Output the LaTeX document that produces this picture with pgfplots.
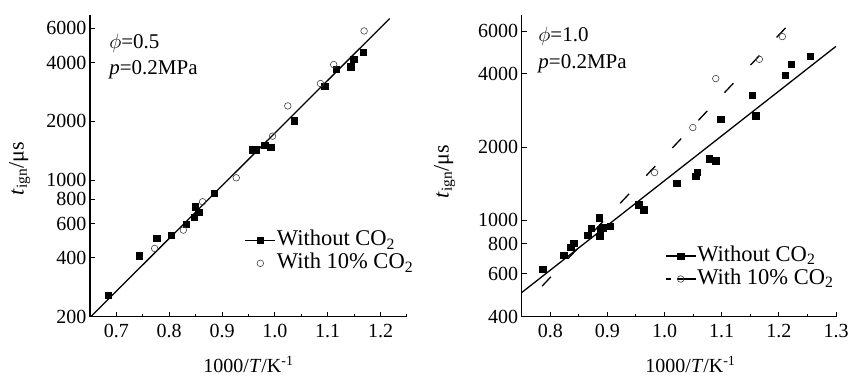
\documentclass[border=0pt]{standalone}
\usepackage{pgfplots}
\pgfplotsset{compat=1.18}
\usepackage{fontspec}
\setmainfont{Liberation Serif}
\pgfplotsset{
  legend image code/.code={\draw[mark repeat=2,mark phase=2,#1] plot coordinates {(0pt,0pt) (15pt,0pt) (30pt,0pt)};},
  sq/.style={only marks, mark=square*, mark size=3.2pt, black, forget plot},
  ci/.style={only marks, mark=o, mark size=3.3pt, black!75, mark options={line width=0.6pt}, forget plot},
}
\begin{document}
\begin{tikzpicture}[font=\fontsize{20}{24}\selectfont]
\path[use as bounding box] (0,0) rectangle (851pt,376pt);
% ---------------- left panel ----------------
\begin{axis}[at={(90pt,59.3pt)}, anchor=south west, width=317pt, height=301.7pt,
  scale only axis,
  axis x line*=bottom, axis y line*=left,
  axis line style={line width=1.2pt},
  ymode=log, ymax=7000, ymin=200,
  xmin=0.65, xmax=1.25,
  clip=false,
  tick align=inside,
  major tick length=5pt, minor tick length=3pt,
  tick style={black, line width=1pt},
  yminorticks=false,
  tick label style={font=\fontsize{20}{24}\selectfont},
  xticklabel style={yshift=-4pt},
  xlabel style={font=\fontsize{20}{24}\selectfont},
  ylabel style={font=\fontsize{22}{26}\selectfont},
  legend cell align=left,
  legend style={draw=none, fill=none, row sep=2pt, nodes={inner sep=1pt, font=\fontsize{22.5}{27}\selectfont, text height=15pt, text depth=4pt}, at={(0.478,0.215)}, anchor=west},
  xlabel={1000/\textit{T}/K\textsuperscript{-1}},
  ylabel={\textit{t}\textsubscript{ign}/μs},
  xtick={0.7,0.8,0.9,1.0,1.1,1.2}, xticklabels={0.7,0.8,0.9,1.0,1.1,1.2},
  minor xtick={0.75,0.85,0.95,1.05,1.15,1.25},
  ytick={200,400,600,800,1000,2000,4000,6000}, yticklabels={200,400,600,800,1000,2000,4000,6000},
  xlabel style={at={(0.5,-0.159)}, anchor=center},
  ylabel style={at={(-0.222,0.49)}, anchor=center},
]
\addplot[black, line width=1.3pt, forget plot] coordinates {(0.6514,200) (1.2172,6710)};
\addplot[sq] coordinates {
(0.684,257) (0.7435,410) (0.7762,503) (0.804,521) (0.8323,596) (0.8467,644)
(0.8486,731) (0.8556,684) (0.8853,855) (0.9582,1429) (0.9639,1429) (0.9809,1504)
(0.9917,1475) (1.037,2010) (1.0943,3024) (1.1164,3693) (1.1435,3813) (1.1491,4155)
(1.1669,4529)};
\addplot[ci] coordinates {
(0.7724,447) (0.8267,555) (0.8631,775) (0.9268,1028) (0.9955,1679) (1.0244,2398)
(1.0862,3121) (1.1113,3903) (1.1688,5800)};
\addlegendimage{black, line width=1.2pt, mark=square*, mark size=3.2pt, mark options={line width=0.5pt}}
\addlegendentry{Without CO\textsubscript{2}}
\addlegendimage{only marks, mark=o, mark size=3.3pt, black!75, line width=0.6pt}
\addlegendentry{With 10\% CO\textsubscript{2}}
\node[anchor=west, font=\fontsize{21}{25}\selectfont] at (axis description cs:0.05,0.907) {$\phi$=0.5};
\node[anchor=west, font=\fontsize{21}{25}\selectfont] at (axis description cs:0.05,0.818) {\textit{p}=0.2MPa};
\end{axis}
% ---------------- right panel ----------------
\begin{axis}[at={(521.7pt,59.3pt)}, anchor=south west, width=314.3pt, height=301.7pt,
  scale only axis,
  axis x line*=bottom, axis y line*=left,
  axis line style={line width=1.2pt},
  ymode=log, ymax=7000, ymin=400,
  xmin=0.75, xmax=1.3,
  clip=false,
  tick align=inside,
  major tick length=5pt, minor tick length=3pt,
  tick style={black, line width=1pt},
  yminorticks=false,
  tick label style={font=\fontsize{20}{24}\selectfont},
  xticklabel style={yshift=-4pt},
  xlabel style={font=\fontsize{20}{24}\selectfont},
  ylabel style={font=\fontsize{22}{26}\selectfont},
  legend cell align=left,
  legend style={draw=none, fill=none, row sep=2pt, nodes={inner sep=1pt, font=\fontsize{22.5}{27}\selectfont, text height=15pt, text depth=4pt}, at={(0.446,0.163)}, anchor=west},
  xlabel={1000/\textit{T}/K\textsuperscript{-1}},
  ylabel={\textit{t}\textsubscript{ign}/μs},
  xtick={0.8,0.9,1.0,1.1,1.2,1.3}, xticklabels={0.8,0.9,1.0,1.1,1.2,1.3},
  minor xtick={0.85,0.95,1.05,1.15,1.25},
  ytick={400,600,800,1000,2000,4000,6000}, yticklabels={400,600,800,1000,2000,4000,6000},
  xlabel style={at={(0.537,-0.159)}, anchor=center},
  ylabel style={at={(-0.245,0.48)}, anchor=center},
]
\addplot[black, line width=1.3pt, forget plot] coordinates {(0.7505,504) (1.30,5200)};
\addplot[black, line width=1.3pt, dash pattern=on 13pt off 25pt, forget plot] coordinates {(0.7855,534) (1.233,7000)};
\addplot[sq] coordinates {
(0.7865,629) (0.8233,718) (0.8355,772) (0.8408,804) (0.8653,868) (0.8711,924)
(0.8851,1022) (0.8862,857) (0.8874,918) (0.892,930) (0.9049,942) (0.955,1156)
(0.9632,1103) (1.0215,1420) (1.0547,1513) (1.0575,1571) (1.0785,1794) (1.0896,1760)
(1.0984,2604) (1.1537,3280) (1.1596,2688) (1.2114,3963) (1.2219,4385) (1.2545,4745)};
\addplot[ci] coordinates {
(0.9824,1571) (1.0495,2407) (1.0896,3830) (1.1659,4598) (1.2061,5702)};
\addlegendimage{black, line width=1.2pt, mark=square*, mark size=3.2pt, mark options={line width=0.5pt}}
\addlegendentry{Without CO\textsubscript{2}}
\addlegendimage{black, line width=1.2pt, dash pattern=on 5pt off 6pt on 30pt, mark=o, mark size=3.3pt, mark options={solid, line width=0.6pt, black!75}}
\addlegendentry{With 10\% CO\textsubscript{2}}
\node[anchor=west, font=\fontsize{21}{25}\selectfont] at (axis description cs:0.042,0.930) {$\phi$=1.0};
\node[anchor=west, font=\fontsize{21}{25}\selectfont] at (axis description cs:0.042,0.838) {\textit{p}=0.2MPa};
\end{axis}
\end{tikzpicture}
\end{document}
